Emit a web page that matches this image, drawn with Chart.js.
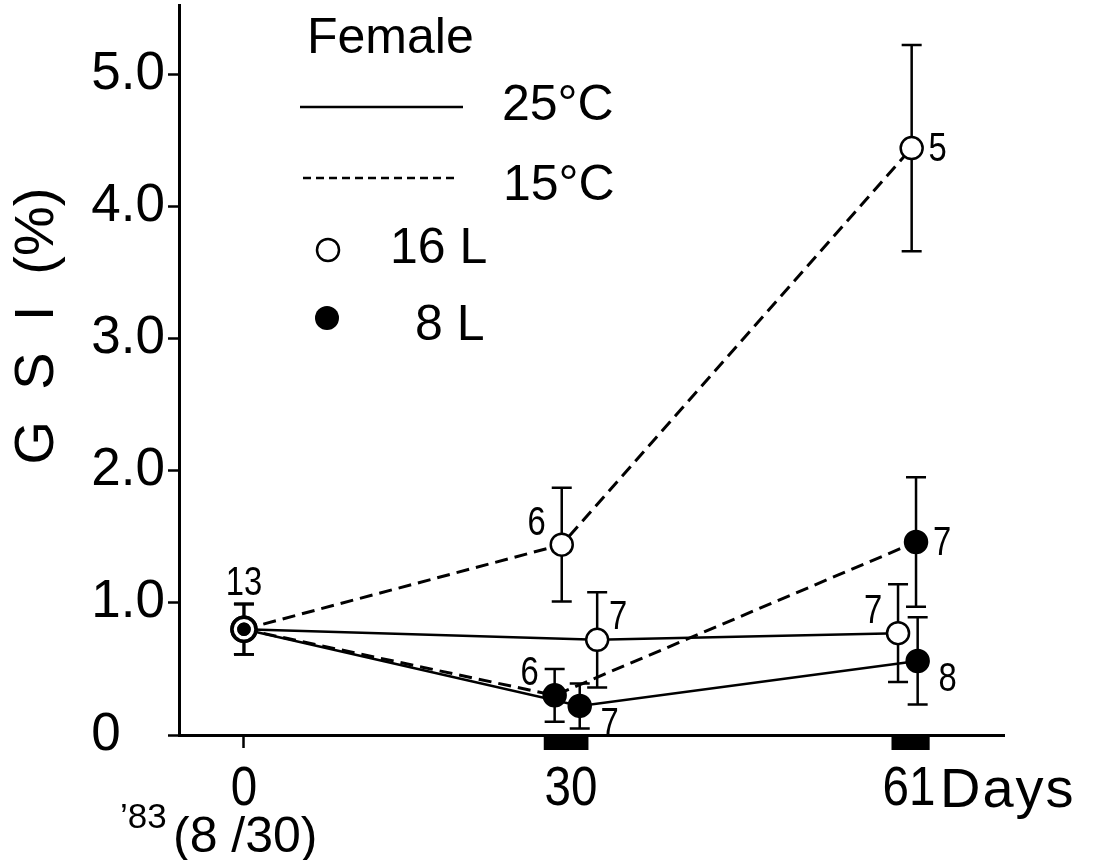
<!DOCTYPE html>
<html lang="en">
<head>
<meta charset="UTF-8">
<title>GSI Female</title>
<script src="https://cdn.jsdelivr.net/npm/chart.js"></script>
<style>
  html, body { margin: 0; padding: 0; background: #fff; }
  #wrap { width: 1096px; height: 860px; position: relative; }
</style>
</head>
<body>
<div id="wrap"><canvas id="gsiChart"></canvas></div>
<script>
    // days after start ('83 8/30); points at 30 and 61 are shifted a bit apart in the figure
    var days_25C_16L = [0, 32.4, 60.0];
    var gsi_25C_16L  = [0.80, 0.72, 0.77];
    var sd_25C_16L   = [0.19, 0.36, 0.37];
    var n_25C_16L    = [13, 7, 7];

    var days_25C_8L = [0, 30.8, 61.8];
    var gsi_25C_8L  = [0.80, 0.22, 0.56];
    var sd_25C_8L   = [0.19, 0.17, 0.33];
    var n_25C_8L    = [13, 7, 8];

    var days_15C_16L = [0, 29.15, 61.25];
    var gsi_15C_16L  = [0.80, 1.44, 4.44];
    var sd_15C_16L   = [0.19, 0.43, 0.78];
    var n_15C_16L    = [13, 6, 5];

    var days_15C_8L = [0, 28.5, 61.65];
    var gsi_15C_8L  = [0.80, 0.30, 1.46];
    var sd_15C_8L   = [0.19, 0.20, 0.49];
    var n_15C_8L    = [13, 6, 7];

    var xTickDays = [0, 30, 61];
    var yTickValues = [0, 1, 2, 3, 4, 5];
    // dark periods marked under the x axis
    var darkPeriods = [[27.5, 31.6], [59.4, 62.9]];

    var sansFont = "'Liberation Sans', Arial, sans-serif";

    var seriesList = [
        { days: days_25C_16L, gsi: gsi_25C_16L, sd: sd_25C_16L, n: n_25C_16L, dashed: false, filled: false, place: ['n', 'ne', 'nw'] },
        { days: days_25C_8L,  gsi: gsi_25C_8L,  sd: sd_25C_8L,  n: n_25C_8L,  dashed: false, filled: true,  place: ['', 'se', 'se'] },
        { days: days_15C_16L, gsi: gsi_15C_16L, sd: sd_15C_16L, n: n_15C_16L, dashed: true,  filled: false, place: ['', 'nw', 'e'] },
        { days: days_15C_8L,  gsi: gsi_15C_8L,  sd: sd_15C_8L,  n: n_15C_8L,  dashed: true,  filled: true,  place: ['', 'nw', 'e'] }
    ];

    var labelOffsets = { n: [0, -49], nw: [-25, -25], ne: [21, -26], e: [26, -2], se: [30, 15] };

    function toPoints(s) {
        return s.days.map(function (d, i) { return { x: d, y: s.gsi[i] }; });
    }

    // narrow-looking text: squeeze a normal sans horizontally
    function narrowText(ctx, text, x, y, size, squeeze, align) {
        ctx.save();
        ctx.font = size + 'px ' + sansFont;
        var w = ctx.measureText(text).width * squeeze;
        var left = align === 'center' ? x - w / 2 : (align === 'right' ? x - w : x);
        ctx.translate(left, y);
        ctx.scale(squeeze, 1);
        ctx.textAlign = 'left';
        ctx.textBaseline = 'alphabetic';
        ctx.fillText(text, 0, 0);
        ctx.restore();
    }

    var datasets = [];
    seriesList.forEach(function (s) {
        datasets.push({
            data: toPoints(s),
            showLine: true,
            borderColor: '#000',
            borderWidth: s.dashed ? 3 : 2.5,
            borderDash: s.dashed ? [13, 7] : [],
            pointRadius: 0,
            order: 3
        });
    });
    seriesList.forEach(function (s) {
        datasets.push({
            data: toPoints(s),
            showLine: false,
            pointStyle: 'circle',
            pointRadius: function (c) {
                if (c.dataIndex === 0) return s.filled ? 5 : 12;
                return 11;
            },
            pointBorderWidth: function (c) { return c.dataIndex === 0 ? 3.5 : 2.5; },
            pointBorderColor: '#000',
            pointBackgroundColor: s.filled ? '#000' : '#fff',
            order: s.filled ? 1 : 2
        });
    });

    var extras = {
        id: 'extras',
        beforeDatasetsDraw: function (chart) {
            var ctx = chart.ctx, xs = chart.scales.x, ys = chart.scales.y;
            ctx.save();
            ctx.fillStyle = '#000';
            darkPeriods.forEach(function (p) {
                var x0 = xs.getPixelForValue(p[0]), x1 = xs.getPixelForValue(p[1]);
                ctx.fillRect(x0, ys.bottom, x1 - x0, 15);
            });
            ctx.strokeStyle = '#000';
            ctx.lineWidth = 2.5;
            seriesList.forEach(function (s) {
                s.days.forEach(function (d, i) {
                    var x = xs.getPixelForValue(d);
                    var yt = ys.getPixelForValue(s.gsi[i] + s.sd[i]);
                    var yb = ys.getPixelForValue(s.gsi[i] - s.sd[i]);
                    ctx.beginPath();
                    ctx.moveTo(x, yt); ctx.lineTo(x, yb);
                    ctx.moveTo(x - 10, yt); ctx.lineTo(x + 10, yt);
                    ctx.moveTo(x - 10, yb); ctx.lineTo(x + 10, yb);
                    ctx.stroke();
                });
            });
            ctx.restore();
        },
        afterDatasetsDraw: function (chart) {
            var ctx = chart.ctx, xs = chart.scales.x, ys = chart.scales.y;
            ctx.save();
            ctx.fillStyle = '#000';
            seriesList.forEach(function (s) {
                s.n.forEach(function (n, i) {
                    var off = labelOffsets[s.place[i]];
                    if (!off) return;
                    var x = xs.getPixelForValue(s.days[i]) + off[0];
                    var y = ys.getPixelForValue(s.gsi[i]) + off[1] + 15;
                    narrowText(ctx, String(n), x, y, 41, 0.8, 'center');
                });
            });
            ctx.restore();
        },
        afterDraw: function (chart) {
            var ctx = chart.ctx, xs = chart.scales.x;
            ctx.save();
            ctx.fillStyle = '#000';
            ctx.strokeStyle = '#000';

            // x tick labels
            xTickDays.forEach(function (d) {
                narrowText(ctx, String(d), xs.getPixelForValue(d), 805, 56, 0.85, 'center');
            });

            // y axis title
            ctx.save();
            ctx.translate(53, 326);
            ctx.rotate(-Math.PI / 2);
            ctx.font = '56px ' + sansFont;
            ctx.textAlign = 'center';
            ctx.textBaseline = 'alphabetic';
            ctx.fillText('G  S  I  (%)', 0, 0);
            ctx.restore();

            // unit after last tick
            ctx.font = '56px ' + sansFont;
            ctx.textAlign = 'left';
            ctx.letterSpacing = '2px';
            ctx.fillText('Days', xs.getPixelForValue(61) + 31, 807);
            ctx.letterSpacing = '0px';

            // start date
            ctx.font = '35px ' + sansFont;
            ctx.fillText('\u201983', 120, 828);
            ctx.font = '50px ' + sansFont;
            ctx.fillText('(8 /30)', 173, 852);

            // legend
            ctx.font = '50px ' + sansFont;
            ctx.fillText('Female', 307, 53);
            ctx.lineWidth = 2.5;
            ctx.beginPath();
            ctx.moveTo(300, 107); ctx.lineTo(463, 107);
            ctx.stroke();
            ctx.fillText('25\u00b0C', 502, 120);
            ctx.setLineDash([8, 5]);
            ctx.beginPath();
            ctx.moveTo(303, 178); ctx.lineTo(457, 178);
            ctx.stroke();
            ctx.setLineDash([]);
            ctx.fillText('15\u00b0C', 503, 200);
            ctx.lineWidth = 2.5;
            ctx.beginPath();
            ctx.arc(328, 250, 11, 0, Math.PI * 2);
            ctx.stroke();
            ctx.fillText('16 L', 390, 263);
            ctx.beginPath();
            ctx.arc(327, 318, 12, 0, Math.PI * 2);
            ctx.fill();
            ctx.fillText('8 L', 415, 340);
            ctx.restore();
        }
    };

    var ctx = document.getElementById('gsiChart').getContext('2d');
    window.myChart = new Chart(ctx, {
        type: 'scatter',
        data: { datasets: datasets },
        options: {
            responsive: true,
            maintainAspectRatio: false,
            animation: false,
            events: [],
            layout: { autoPadding: false, padding: { top: 5, right: 92, left: 0, bottom: 0 } },
            plugins: {
                legend: { display: false },
                tooltip: { enabled: false }
            },
            scales: {
                x: {
                    type: 'linear',
                    min: -5.96,
                    max: 69.72,
                    afterBuildTicks: function (scale) {
                        scale.ticks = xTickDays.map(function (v) { return { value: v }; });
                    },
                    afterFit: function (scale) {
                        scale.height = 125;
                        scale.paddingLeft = 0;
                        scale.paddingRight = 0;
                    },
                    border: { color: '#000', width: 3 },
                    grid: {
                        drawOnChartArea: false,
                        tickLength: 13,
                        tickWidth: 2.5,
                        tickColor: function (c) {
                            return c.tick && c.tick.value === 0 ? '#000' : 'rgba(0,0,0,0)';
                        }
                    },
                    ticks: { display: false }
                },
                y: {
                    type: 'linear',
                    min: 0,
                    max: 5.522,
                    afterBuildTicks: function (scale) {
                        scale.ticks = yTickValues.map(function (v) { return { value: v }; });
                    },
                    afterFit: function (scale) {
                        scale.width = 179;
                        scale.paddingTop = 0;
                        scale.paddingBottom = 0;
                    },
                    border: { color: '#000', width: 3 },
                    grid: {
                        drawOnChartArea: false,
                        tickLength: 11,
                        tickWidth: 2.5,
                        tickColor: '#000'
                    },
                    ticks: {
                        color: '#000',
                        padding: 3,
                        font: { family: sansFont, size: 53 },
                        callback: function (v) { return v === 0 ? '0   ' : v.toFixed(1); }
                    }
                }
            }
        },
        plugins: [extras]
    });
</script>
</body>
</html>
